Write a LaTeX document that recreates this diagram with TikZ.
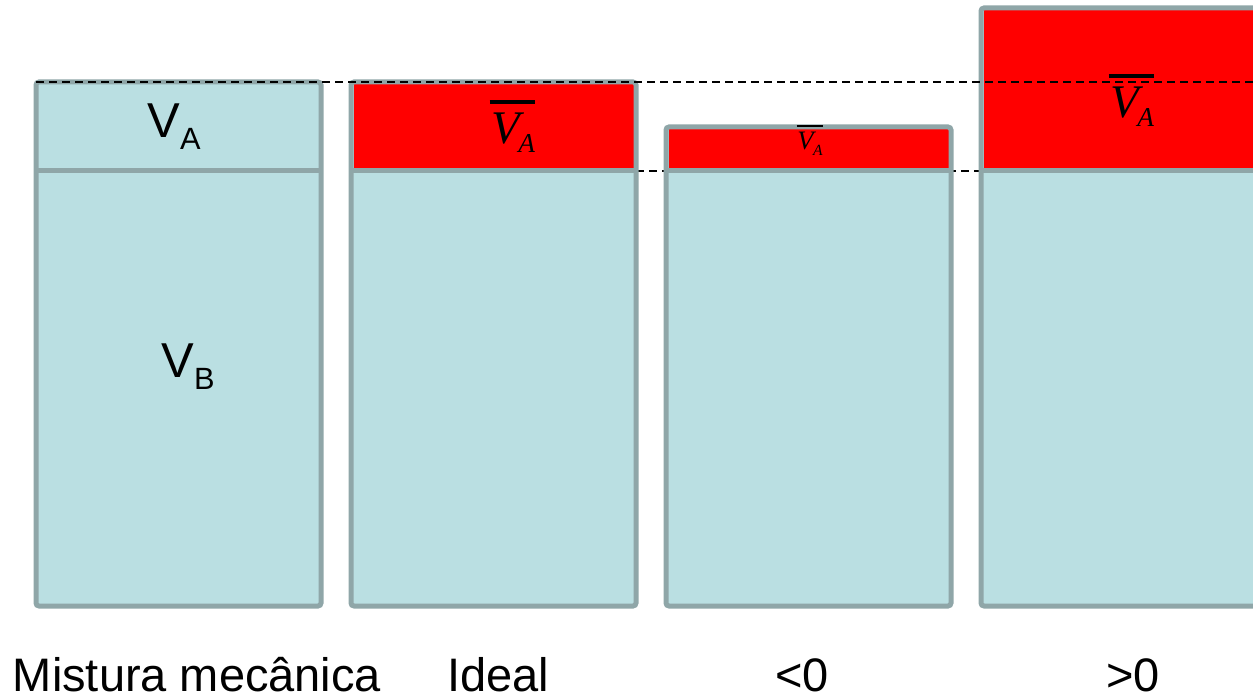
\documentclass[tikz,border=0pt]{standalone}
\usepackage{fontspec}
\setmainfont{Liberation Sans}
\newfontfamily\molarfont{Liberation Serif}
\usetikzlibrary{calc, positioning}
\definecolor{liquid}{HTML}{BADFE2}
\definecolor{wall}{HTML}{8FA6A8}
\newcommand\vessel[3]{
    \fill[liquid] (#1,#2) rectangle (#3,606);
    \fill[excess] ($(#1,#2)+(2.5,2.5)$) rectangle (#3-2.5,171);
    \draw[wallline] (#1,171) -- (#3,171);
    \draw[wallline] (#1,#2) rectangle (#3,606);
}
\newcommand\molar{V\kern-0.5pt\raisebox{-3.6pt}{\fontsize{10.9}{12}\selectfont A}}
\tikzstyle{wallline} = [draw=wall,line width=2pt,rounded corners=1.2pt]
\tikzstyle{excess}   = [fill=red]
\tikzstyle{guide}    = [draw=black,line width=0.7pt,dash pattern=on 3.2pt off 2pt]
\tikzstyle{volume}   = [inner sep=0pt,anchor=base west,font=\fontsize{19.6}{22}\selectfont]
\tikzstyle{partial}  = [inner sep=0pt,anchor=base,font=\fontsize{18.7}{20}\selectfont\molarfont\itshape]
\tikzstyle{molarbar} = [line width=1.3pt]
\tikzstyle{caption}  = [inner sep=0pt,anchor=base,font=\fontsize{18.8}{22}\selectfont]

\begin{document}
\begin{tikzpicture}[x=0.4pt,y=-0.4pt]
        \useasboundingbox (0,0) rectangle (1253,698);
        \clip (0,0) rectangle (1253,698);

        \coordinate (low start) at (636,171);
        \coordinate (low end)   at (981,171);
        \draw[guide] (low start) -- (low end);

        % mechanical mixture
        \fill[liquid] (36,82) rectangle (321,606);
        \draw[wallline] (36,171) -- (321,171);
        \draw[wallline] (36,82) rectangle (321,606);
        % ideal, negative and positive mixtures
        \vessel{351}{82}{636}
        \vessel{666}{127}{951}
        \vessel{981}{8}{1266}

        \coordinate (high start) at (36,82);
        \coordinate (high end)   at (1253,82);
        \draw[guide] (high start) -- (high end);

        \node[volume] (va mech) at (147,138) {V\raisebox{-4.8pt}{\fontsize{12.3}{14}\selectfont A}};
        \node[volume] (vb mech) at (161,378) {V\raisebox{-4.8pt}{\fontsize{12.3}{14}\selectfont B}};

        \node[partial]            (va ideal) at (513,144)  {\molar};
        \node[partial,scale=0.57] (va neg)   at (810,150)  {\molar};
        \node[partial]            (va pos)   at (1132,118) {\molar};
        \draw[molarbar] ($(va ideal.north west)+(-1,-11)$) -- ($(va ideal.north east)+(0,-11)$);
        \draw[molarbar,line width=0.75pt] ($(va neg.north west)+(-0.6,-6.3)$) -- ($(va neg.north east)+(0,-6.3)$);
        \draw[molarbar] ($(va pos.north west)+(-1,-11)$) -- ($(va pos.north east)+(0,-11)$);

        \node[caption] (mech)  at (197,691)  {Mistura mecânica};
        \node[caption] (ideal) at (498,691)  {Ideal};
        \node[caption] (neg)   at (802,691)  {<0};
        \node[caption] (pos)   at (1133,691) {>0};
    \end{tikzpicture}
\end{document}
